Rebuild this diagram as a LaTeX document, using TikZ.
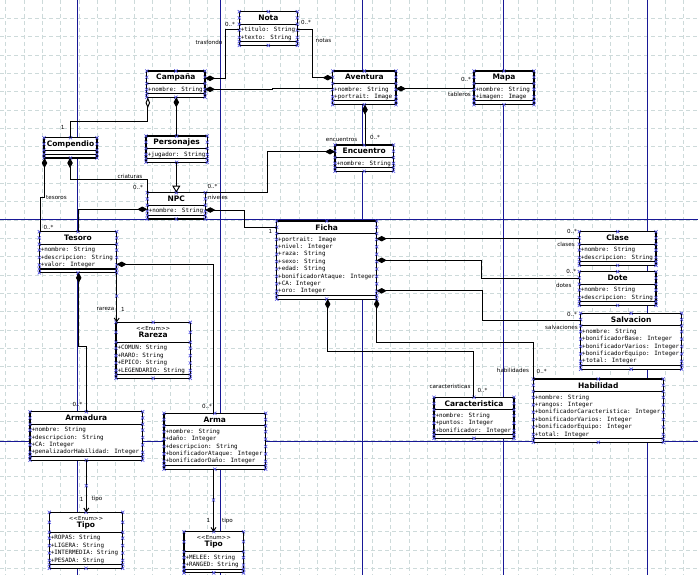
\documentclass[tikz,border=0pt]{standalone}
\usepackage{fontspec}
\usetikzlibrary{arrows.meta,calc}
\newfontfamily\ttlfont{DejaVu Sans}
\newfontfamily\monfont{DejaVu Sans Mono}
\newfontfamily\lblfont{DejaVu Sans}
\definecolor{pageblue}{RGB}{24,24,150}
\definecolor{gridc}{RGB}{205,218,218}
\definecolor{handlec}{RGB}{80,80,225}
\tikzset{
  box/.style={draw=black, line width=1.1pt, fill=white, inner sep=0pt, outer sep=0pt, anchor=north west},
  sepline/.style={line width=1.1pt, black},
  ttl/.style={font=\ttlfont\bfseries\fontsize{7.5}{8}\selectfont, inner sep=0pt},
  stereo/.style={font=\lblfont\fontsize{5.5}{6}\selectfont, inner sep=0pt},
  attr/.style={font=\monfont\fontsize{5.9}{7}\selectfont, inner sep=0pt, anchor=west},
  lbl/.style={font=\lblfont\fontsize{5.6}{6}\selectfont, inner sep=0pt},
  handle/.style={draw=handlec, line width=0.6pt},
  gridline/.style={draw=gridc, line width=0.5pt, dash pattern=on 4pt off 3pt},
  pageline/.style={draw=pageblue, line width=0.9pt},
  conn/.style={line width=0.95pt, black},
  comp/.style={conn, {Diamond[length=10pt,width=5.5pt]}-},
  compend/.style={conn, -{Diamond[length=10pt,width=5.5pt]}},
  aggr/.style={conn, {Diamond[open,length=11pt,width=4.5pt,fill=white]}-},
  gen/.style={conn, -{Triangle[open,length=7pt,width=8pt,fill=white]}},
  nav/.style={conn, -{Straight Barb[length=3.5pt,width=5pt]}},
}
\newcommand\hx[2]{\draw[handle] (#1,#2) ++(-1.6,-1.6) -- ++(3.2,3.2) ++(-3.2,0) -- ++(3.2,-3.2);}
\newcommand\umlbox[7]{%
  \pgfmathsetmacro\ubAH{ifthenelse(#6==0,4,7.4*#6+2.6)}%
  \pgfmathsetmacro\ubH{#5+\ubAH+3.8}%
  \pgfmathsetmacro\ubSA{#3+#5}%
  \pgfmathsetmacro\ubSB{#3+#5+\ubAH}%
  \pgfmathsetmacro\ubXR{#2+#4}%
  \pgfmathsetmacro\ubYB{#3+\ubH}%
  \pgfmathsetmacro\ubXM{#2+#4/2}%
  \node[box, minimum width=#4pt, minimum height=\ubH pt] (#1) at (#2,#3) {};%
  \draw[sepline] (#2,\ubSA) -- (\ubXR,\ubSA) (#2,\ubSB) -- (\ubXR,\ubSB);%
  \ifnum#6>0
  \foreach \attrtext [count=\ii] in {#7} {\node[attr, name=#1-a\ii] at (#2+1.3,\ubSA+5.9+7.4*\ii-7.4) {\attrtext};
     \hx{#2}{\ubSA+5.9+7.4*\ii-7.4}\hx{\ubXR}{\ubSA+5.9+7.4*\ii-7.4}}%
  \fi
  \hx{#2}{#3}\hx{\ubXR}{#3}\hx{#2}{\ubYB}\hx{\ubXR}{\ubYB}\hx{\ubXM}{#3}\hx{\ubXM}{\ubYB}%
  \hx{#2}{\ubSA}\hx{\ubXR}{\ubSA}\hx{#2}{\ubSB}\hx{\ubXR}{\ubSB}\hx{#2}{#3+#5/2}\hx{\ubXR}{#3+#5/2}%
}
\newcommand\enumst{<{}<Enum>{}>}
\begin{document}
\begin{tikzpicture}[x=1pt,y=-1pt]
\useasboundingbox (0,0) rectangle (698,575);
\fill[white] (0,0) rectangle (698,575);
% grid
\foreach \k in {1,...,31} \draw[gridline] (0,\k*18.33) -- (698,\k*18.33);
\foreach \k in {0,...,38} \draw[gridline] (5.5+\k*18.33,0) -- (5.5+\k*18.33,575);
% page lines
\foreach \px in {77.7,220.3,362.7,503.8,647.3} \draw[pageline] (\px,0) -- (\px,575);
\foreach \py in {219.3,441.7} \draw[pageline] (0,\py) -- (698,\py);

% classes
\umlbox{nota}{239.3}{11.7}{58}{12.5}{2}{+titulo: String,+texto: String}
\node[ttl] (nota-t) at ($(nota.north)+(0,6.3)$) {Nota};
\umlbox{campana}{146.7}{71}{58.3}{12.5}{1}{+nombre: String}
\node[ttl] (campana-t) at ($(campana.north)+(0,6.3)$) {Campaña};
\umlbox{aventura}{332.7}{71}{63.3}{12.5}{2}{+nombre: String,+portrait: Image}
\node[ttl] (aventura-t) at ($(aventura.north)+(0,6.3)$) {Aventura};
\umlbox{mapa}{474}{71}{60}{12.5}{2}{+nombre: String,+imagen: Image}
\node[ttl] (mapa-t) at ($(mapa.north)+(0,6.3)$) {Mapa};
\umlbox{compendio}{44}{137.7}{53}{12.5}{0}{}
\node[ttl] (compendio-t) at ($(compendio.north)+(0,6.3)$) {Compendio};
\umlbox{personajes}{146}{136}{61.3}{12.5}{1}{+jugador: String}
\node[ttl] (personajes-t) at ($(personajes.north)+(0,6.3)$) {Personajes};
\umlbox{npc}{147.3}{192.7}{58}{12.5}{1}{+nombre: String}
\node[ttl] (npc-t) at ($(npc.north)+(0,6.3)$) {NPC};
\umlbox{encuentro}{335}{145}{58.5}{12.5}{1}{+nombre: String}
\node[ttl] (encuentro-t) at ($(encuentro.north)+(0,6.3)$) {Encuentro};
\umlbox{ficha}{276.7}{221}{100}{12.5}{8}{+portrait: Image,+nivel: Integer,+raza: String,+sexo: String,+edad: String,+bonificadorAtaque: Integer,+CA: Integer,+oro: Integer}
\node[ttl] (ficha-t) at ($(ficha.north)+(0,6.3)$) {Ficha};
\umlbox{tesoro}{39.3}{231.7}{77.4}{12.5}{3}{+nombre: String,+descripcion: String,+valor: Integer}
\node[ttl] (tesoro-t) at ($(tesoro.north)+(0,6.3)$) {Tesoro};
\umlbox{rareza}{116}{322.3}{74.3}{20}{4}{+COMUN: String,+RARO: String,+EPICO: String,+LEGENDARIO: String}
\node[stereo] (rareza-s) at ($(rareza.north)+(0,5.8)$) {\enumst};
\node[ttl] (rareza-t) at ($(rareza.north)+(0,12.8)$) {Rareza};
\umlbox{armadura}{30}{411.7}{112.7}{12.5}{4}{+nombre: String,+descripcion: String,+CA: Integer,+penalizadorHabilidad: Integer}
\node[ttl] (armadura-t) at ($(armadura.north)+(0,6.3)$) {Armadura};
\umlbox{arma}{164}{413.3}{101.7}{12.5}{5}{+nombre: String,+daño: Integer,+descripcion: String,+bonificadorAtaque: Integer,+bonificadorDaño: Integer}
\node[ttl] (arma-t) at ($(arma.north)+(0,6.3)$) {Arma};
\umlbox{tipoA}{49.3}{512.3}{73.4}{20}{4}{+ROPAS: String,+LIGERA: String,+INTERMEDIA: String,+PESADA: String}
\node[stereo] (tipoA-s) at ($(tipoA.north)+(0,5.8)$) {\enumst};
\node[ttl] (tipoA-t) at ($(tipoA.north)+(0,12.8)$) {Tipo};
\umlbox{tipoB}{184}{531.7}{59.5}{20}{2}{+MELEE: String,+RANGED: String}
\node[stereo] (tipoB-s) at ($(tipoB.north)+(0,5.8)$) {\enumst};
\node[ttl] (tipoB-t) at ($(tipoB.north)+(0,12.8)$) {Tipo};
\umlbox{clase}{579.3}{231.7}{76.7}{12.5}{2}{+nombre: String,+descripcion: String}
\node[ttl] (clase-t) at ($(clase.north)+(0,6.3)$) {Clase};
\umlbox{dote}{579.3}{271.7}{76.7}{12.5}{2}{+nombre: String,+descripcion: String}
\node[ttl] (dote-t) at ($(dote.north)+(0,6.3)$) {Dote};
\umlbox{salvacion}{580.7}{313.3}{101}{12.5}{5}{+nombre: String,+bonificadorBase: Integer,+bonificadorVarios: Integer,+bonificadorEquipo: Integer,+total: Integer}
\node[ttl] (salvacion-t) at ($(salvacion.north)+(0,6.3)$) {Salvacion};
\umlbox{habilidad}{533.3}{379}{130}{12.5}{6}{+nombre: String,+rangos: Integer,+bonificadorCaracteristica: Integer,+bonificadorVarios: Integer,+bonificadorEquipo: Integer,+total: Integer}
\node[ttl] (habilidad-t) at ($(habilidad.north)+(0,6.3)$) {Habilidad};
\umlbox{caract}{434}{397.3}{80}{12.5}{3}{+nombre: String,+puntos: Integer,+bonificador: Integer}
\node[ttl] (caract-t) at ($(caract.north)+(0,6.3)$) {Caracteristica};

% connectors
\draw[comp] (campana.east |- 0,78.3) -- (225.5,78.3) -- (225.5,29.3) -- (nota.west |- 0,29.3);
\draw[compend] (nota.east |- 0,29.3) -- (312.7,29.3) -- (312.7,77.7) -- (aventura.west |- 0,77.7);
\draw[comp] (campana.east |- 0,89.3) -- (272.7,89.3) -- (272.7,88.3) -- (aventura.west |- 0,88.3);
\draw[comp] (aventura.east |- 0,88.7) -- (mapa.west |- 0,88.7);
\draw[comp] (365,0 |- aventura.south) -- (365,0 |- encuentro.north);
\draw[aggr] (147.8,0 |- campana.south) -- (147.8,121.3) -- (70,121.3) -- (70,0 |- compendio.north);
\draw[comp] (176.3,0 |- campana.south) -- (176.3,0 |- personajes.north);
\draw[gen] (176.3,0 |- personajes.south) -- (176.3,0 |- npc.north);
\draw[comp] (70,0 |- compendio.south) -- (70,179.3) -- (147.3,179.3) -- (147.3,0 |- npc.north);
\draw[comp] (44.5,0 |- compendio.south) -- (44.5,197) -- (40.7,197) -- (40.7,0 |- tesoro.north);
\draw[comp] (npc.west |- 0,209.3) -- (78.3,209.3) -- (78.3,0 |- tesoro.north);
\draw[compend] (npc.north east) -- (267.7,0 |- npc.north east) -- (267.7,151.7) -- (encuentro.west |- 0,151.7);
\draw[comp] (npc.east |- 0,210) -- (244,210) -- (244,227.7) -- (ficha.west |- 0,227.7);
\draw[comp] (78.7,0 |- tesoro.south) -- (78.7,346) -- (86.3,346) -- (86.3,0 |- armadura.north);
\draw[comp] (tesoro.east |- 0,264.3) -- (213.5,264.3) -- (213.5,0 |- arma.north);
\draw[nav] (tesoro.south east) -- (116.7,0 |- rareza.north);
\draw[nav] (86.3,0 |- armadura.south) -- (86.3,0 |- tipoA.north);
\draw[nav] (213.5,0 |- arma.south) -- (213.5,0 |- tipoB.north);
\draw[comp] (ficha.east |- 0,238.7) -- (clase.west |- 0,238.7);
\draw[comp] (ficha.east |- 0,260.3) -- (481.8,260.3) -- (481.8,278.3) -- (dote.west |- 0,278.3);
\draw[comp] (ficha.east |- 0,290.8) -- (482.3,290.8) -- (482.3,320) -- (salvacion.west |- 0,320);
\draw[comp] (ficha.south east) -- (376.7,342.3) -- (533.5,342.3) -- (533.5,0 |- habilidad.north);
\draw[comp] (327.7,0 |- ficha.south) -- (327.7,351) -- (473.3,351) -- (473.3,0 |- caract.north);
\hx{116.7}{296}\hx{86.3}{485.7}\hx{213.5}{500}

% labels
\node[lbl] (l1) at (230,24) {0..*};
\node[lbl] (l2) at (209,42.7) {trasfondo};
\node[lbl] (l3) at (306,22.7) {0..*};
\node[lbl] (l4) at (323.5,41) {notas};
\node[lbl] (l5) at (466,79) {0..*};
\node[lbl] (l6) at (459.5,94) {tableros};
\node[lbl] (l7) at (341.5,140) {encuentros};
\node[lbl] (l8) at (375,137.3) {0..*};
\node[lbl] (l9) at (62.7,127.7) {1};
\node[lbl] (l10) at (130,176) {criaturas};
\node[lbl] (l11) at (138,187.7) {0..*};
\node[lbl] (l12) at (56.5,197.3) {tesoros};
\node[lbl] (l13) at (48.5,227.3) {0..*};
\node[lbl] (l14) at (212.5,186) {0..*};
\node[lbl] (l15) at (218,197.3) {niveles};
\node[lbl] (l16) at (270.5,231.5) {1};
\node[lbl] (l17) at (77.5,404.5) {0..*};
\node[lbl] (l18) at (207,406) {0..*};
\node[lbl] (l19) at (105.5,309.3) {rareza};
\node[lbl] (l20) at (123,309.3) {1};
\node[lbl] (l21) at (81.7,499) {1};
\node[lbl] (l22) at (97,499) {tipo};
\node[lbl] (l23) at (208.3,520.7) {1};
\node[lbl] (l24) at (227.5,520.7) {tipo};
\node[lbl] (l25) at (572,231) {0..*};
\node[lbl] (l26) at (566,244) {clases};
\node[lbl] (l27) at (571.3,271.7) {0..*};
\node[lbl] (l28) at (563.8,285) {dotes};
\node[lbl] (l29) at (572,314.3) {0..*};
\node[lbl] (l30) at (561.5,327.3) {salvaciones};
\node[lbl] (l31) at (513,370) {habilidades};
\node[lbl] (l32) at (541.7,371) {0..*};
\node[lbl] (l33) at (450,386.7) {caracteristicas};
\node[lbl] (l34) at (482.5,390.7) {0..*};
\end{tikzpicture}
\end{document}
